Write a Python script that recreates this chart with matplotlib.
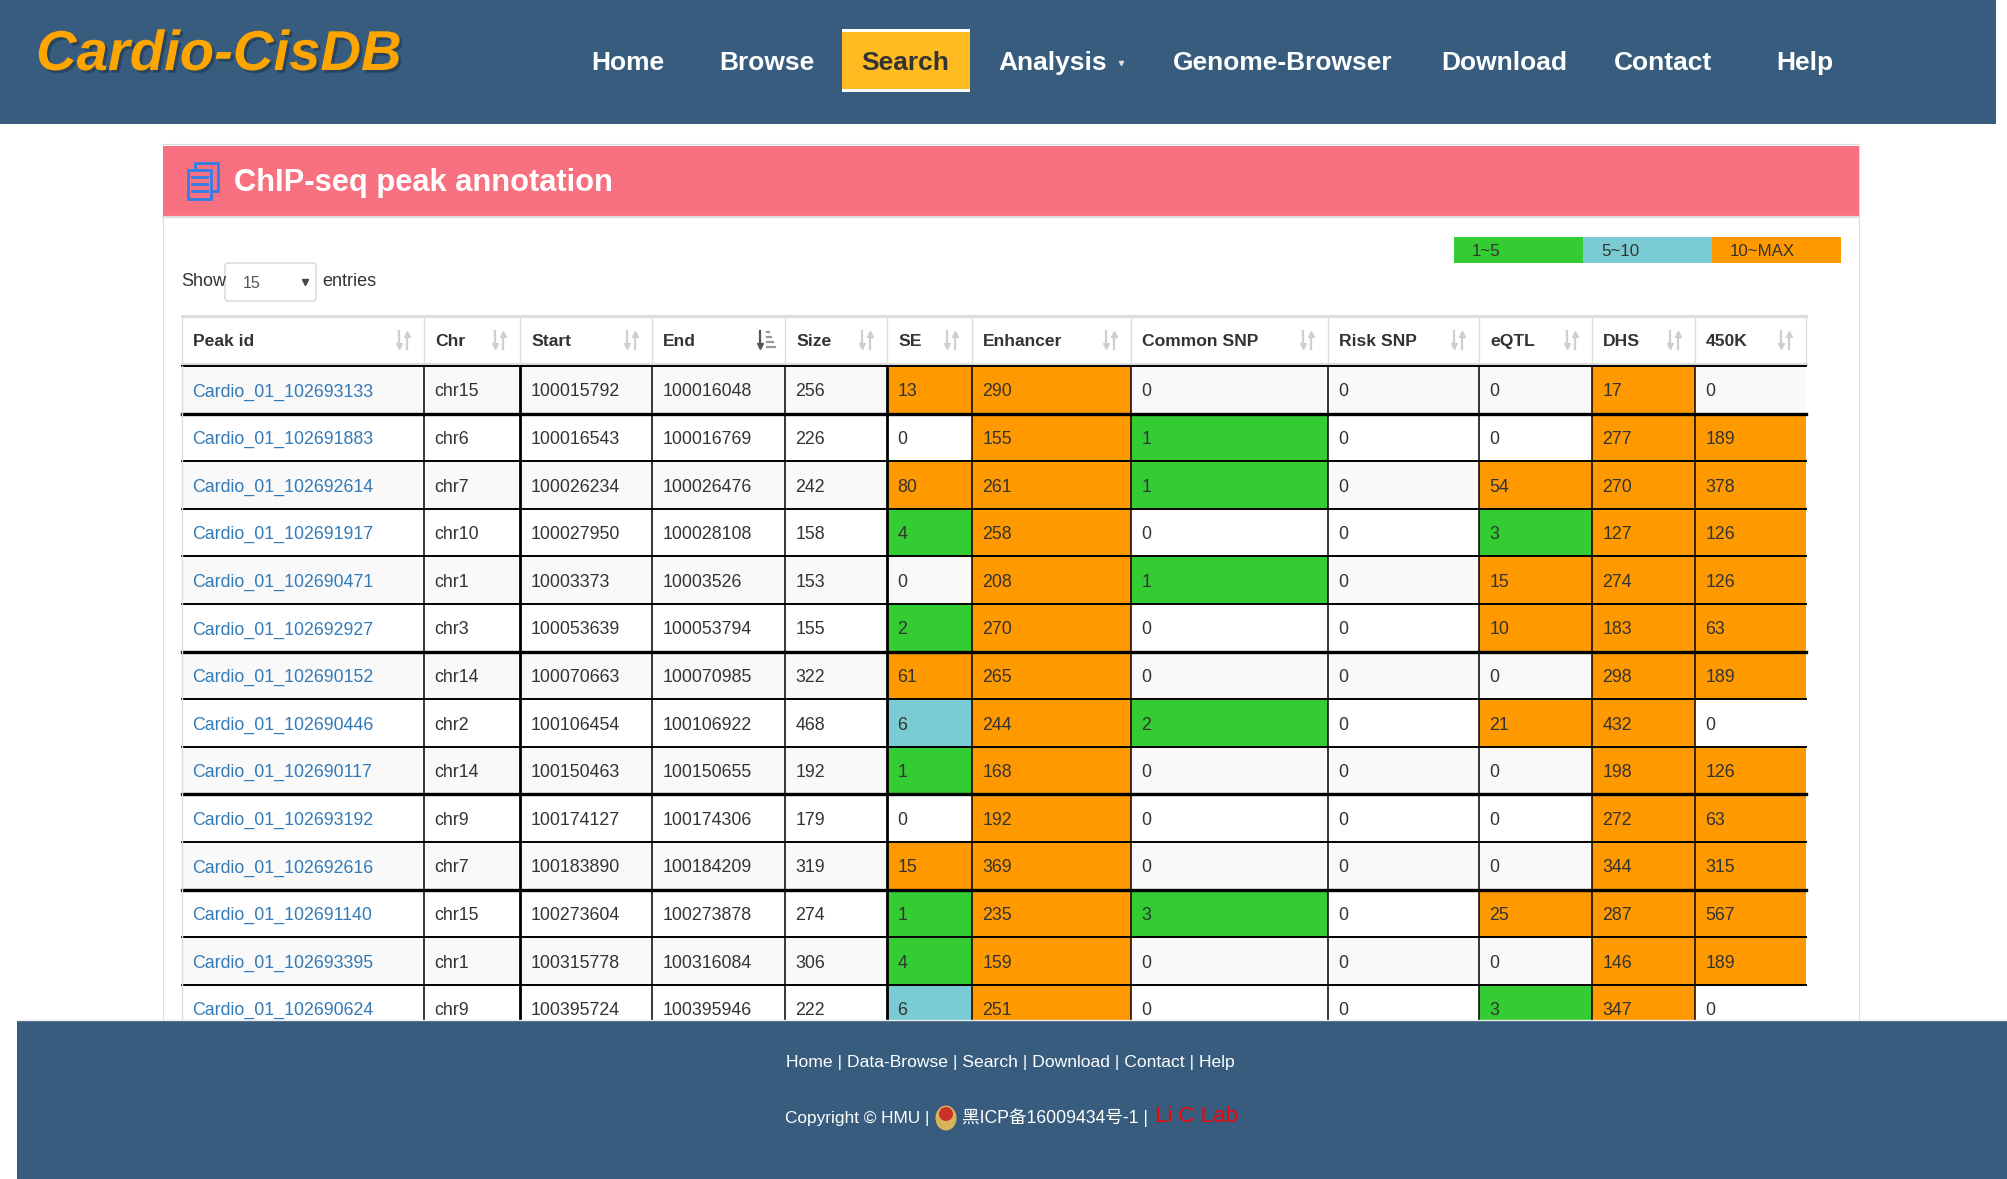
import matplotlib
matplotlib.use('Agg')
import matplotlib.pyplot as plt
import matplotlib.patheffects as pe
from matplotlib.patches import Rectangle, Circle, Ellipse, FancyBboxPatch

plt.rcParams['font.family'] = ['Liberation Sans', 'Noto Sans CJK SC', 'DejaVu Sans']

# table content
columns = ['Peak id', 'Chr', 'Start', 'End', 'Size', 'SE', 'Enhancer',
           'Common SNP', 'Risk SNP', 'eQTL', 'DHS', '450K']
peak_ids = ['Cardio_01_102693133', 'Cardio_01_102691883', 'Cardio_01_102692614',
            'Cardio_01_102691917', 'Cardio_01_102690471', 'Cardio_01_102692927',
            'Cardio_01_102690152', 'Cardio_01_102690446', 'Cardio_01_102690117',
            'Cardio_01_102693192', 'Cardio_01_102692616', 'Cardio_01_102691140',
            'Cardio_01_102693395', 'Cardio_01_102690624']
chrs = ['chr15', 'chr6', 'chr7', 'chr10', 'chr1', 'chr3', 'chr14', 'chr2',
        'chr14', 'chr9', 'chr7', 'chr15', 'chr1', 'chr9']
starts = [100015792, 100016543, 100026234, 100027950, 10003373, 100053639,
          100070663, 100106454, 100150463, 100174127, 100183890, 100273604,
          100315778, 100395724]
ends = [100016048, 100016769, 100026476, 100028108, 10003526, 100053794,
        100070985, 100106922, 100150655, 100174306, 100184209, 100273878,
        100316084, 100395946]
sizes = [256, 226, 242, 158, 153, 155, 322, 468, 192, 179, 319, 274, 306, 222]
se = [13, 0, 80, 4, 0, 2, 61, 6, 1, 0, 15, 1, 4, 6]
enhancer = [290, 155, 261, 258, 208, 270, 265, 244, 168, 192, 369, 235, 159, 251]
common_snp = [0, 1, 1, 0, 1, 0, 0, 2, 0, 0, 0, 3, 0, 0]
risk_snp = [0, 0, 0, 0, 0, 0, 0, 0, 0, 0, 0, 0, 0, 0]
eqtl = [0, 0, 54, 3, 15, 10, 0, 21, 0, 0, 0, 25, 0, 3]
dhs = [17, 277, 270, 127, 274, 183, 298, 432, 198, 272, 344, 287, 146, 347]
k450 = [0, 189, 378, 126, 126, 63, 189, 0, 126, 63, 315, 567, 189, 0]
nav_items = ['Home', 'Browse', 'Search', 'Analysis', 'Genome-Browser',
             'Download', 'Contact', 'Help']
legend_labels = ['1~5', '5~10', '10~MAX']
footer_links = 'Home | Data-Browse | Search | Download | Contact | Help'

# colours
NAVY = '#385c7e'
PINK = '#f77180'
GREEN = '#33cc33'
CYAN = '#7acbd3'
ORANGE = '#ff9900'
GREY = '#dddddd'
TEXT = '#333333'
LINK = '#337ab7'

# page layout, in pixels
col_edges = [182, 424, 520, 652, 785, 887, 972, 1131, 1328, 1479, 1592, 1695, 1806]
nav_x = [591, 719, 861, 998, 1173, 1441, 1614, 1776]
row_top = 366
row_h = 47.6
thick_rows = [1, 6, 9, 11]  # these borders come out heavier in the screenshot


def cell_colour(val, row):
    if val >= 10:
        return ORANGE
    if val > 5:
        return CYAN
    if val >= 1:
        return GREEN
    return '#f9f9f9' if row % 2 == 0 else 'white'


def sort_icon(ax, x, y, active=False):
    col = '#cfcfcf'
    ax.plot([x, x], [y - 9, y + 7], color='#555555' if active else col, lw=1.6, zorder=3)
    ax.plot([x], [y + 6], marker='v', ms=5, color='#555555' if active else col, zorder=3)
    if active:
        for k, w in enumerate([2, 4, 6, 8]):
            ax.plot([x + 7, x + 7 + w], [y - 8 + k * 5] * 2, color='#999999', lw=1.6, zorder=3)
    else:
        ax.plot([x + 8, x + 8], [y - 7, y + 9], color=col, lw=1.6, zorder=3)
        ax.plot([x + 8], [y - 6], marker='^', ms=5, color=col, zorder=3)


fig = plt.figure(figsize=(20.08, 11.79), dpi=100)
ax = fig.add_axes([0, 0, 1, 1])
ax.set_xlim(0, 2008)
ax.set_ylim(1179, 0)
ax.axis('off')

# navbar
ax.add_patch(Rectangle((0, 0), 1996, 124, color=NAVY, lw=0, zorder=1))
ax.text(36, 56, 'Cardio-CisDB', color='#ffa500', fontsize=40.5, fontweight='bold',
        fontstyle='italic', va='center', zorder=3,
        path_effects=[pe.withSimplePatchShadow(offset=(2, -2), shadow_rgbFace='#000000', alpha=0.25)])
ax.add_patch(Rectangle((842, 29), 128, 63, color='white', lw=0, zorder=2))
ax.add_patch(Rectangle((842, 32), 128, 57, color='#ffbb22', lw=0, zorder=2))
for name, x in zip(nav_items, nav_x):
    ax.text(x, 63, name, color=TEXT if name == 'Search' else 'white', fontsize=19,
            fontweight='bold', va='center', zorder=3)
ax.plot([1121], [63], marker='v', ms=3, color='#dddddd', zorder=3)

# panel
ax.add_patch(Rectangle((163, 144), 1696, 890, fc='white', ec=GREY, lw=0.8, zorder=1))
ax.add_patch(Rectangle((163, 146), 1696, 70, color=PINK, lw=0, zorder=2))
ax.plot([163, 1859], [217, 217], color=GREY, lw=1.6, zorder=2)
ax.text(234, 183, 'ChIP-seq peak annotation', color='white', fontsize=22.2,
        fontweight='bold', va='center', zorder=3)
ax.add_patch(Rectangle((195, 163), 23, 28, fc=PINK, ec='#2f7fe8', lw=2, zorder=3))
ax.add_patch(Rectangle((188, 170), 23, 29, fc=PINK, ec='#2f7fe8', lw=2, zorder=3))
for y in [177, 184, 191]:
    ax.plot([192, 207], [y, y], color='#2f7fe8', lw=2, zorder=4)

# colour key
key_edges = [1454, 1583, 1712, 1841]
for k, (lab, c) in enumerate(zip(legend_labels, [GREEN, CYAN, ORANGE])):
    ax.add_patch(Rectangle((key_edges[k], 237), key_edges[k + 1] - key_edges[k], 26,
                           color=c, lw=0, zorder=2))
    ax.text(key_edges[k] + 18, 251, lab, color=TEXT, fontsize=12.2, va='center', zorder=3)

# page length selector
ax.text(181, 282, 'Show', color=TEXT, fontsize=13, va='center', zorder=3)
ax.add_patch(FancyBboxPatch((225, 263), 91, 38, boxstyle='round,pad=0,rounding_size=3',
                            fc='white', ec='#cccccc', lw=0.8, zorder=2))
ax.text(243, 284, '15', color='#555555', fontsize=11.5, va='center', zorder=3)
ax.plot([305], [282], marker='v', ms=4, color='#444444', zorder=3)
ax.text(322, 282, 'entries', color=TEXT, fontsize=13, va='center', zorder=3)

# table header
for x0, x1, name in zip(col_edges[:-1], col_edges[1:], columns):
    ax.text(x0 + 11, 341.5, name, color=TEXT, fontsize=12.6, fontweight='bold', va='center', zorder=3)
    sort_icon(ax, x1 - 25, 340, active=name == 'End')
ax.plot([col_edges[0], col_edges[-1]], [316, 316], color=GREY, lw=2.2, zorder=2)
ax.plot([col_edges[0], col_edges[-1]], [364, 364], color=GREY, lw=2.2, zorder=2)
for x in col_edges:
    ax.plot([x, x], [316, 364], color=GREY, lw=1, zorder=2)

# table body
table_cols = [peak_ids, chrs, starts, ends, sizes, se, enhancer, common_snp,
              risk_snp, eqtl, dhs, k450]
for r in range(len(peak_ids)):
    y0 = row_top + r * row_h
    y_mid = y0 + row_h / 2 + 2.2
    for c, values in enumerate(table_cols):
        val = values[r]
        x0, x1 = col_edges[c], col_edges[c + 1]
        if c >= 5:
            fc = cell_colour(val, r)
        else:
            fc = '#f9f9f9' if r % 2 == 0 else 'white'
        ax.add_patch(Rectangle((x0, y0), x1 - x0, row_h, color=fc, lw=0, zorder=1.5))
        ax.text(x0 + 10.5, y_mid, str(val), color=LINK if c == 0 else TEXT,
                fontsize=12.8, va='center', zorder=3)
    ax.plot([col_edges[0], col_edges[-1]], [y0, y0], color='black',
            lw=2.4 if r in thick_rows else 1.4, zorder=2.5)
for k, x in enumerate(col_edges):
    if k == 0:
        ax.plot([x, x], [row_top, 1021], color=GREY, lw=1, zorder=2.5)
    elif k < len(col_edges) - 1:
        ax.plot([x, x], [row_top, 1021], color='black', lw=2 if k in (2, 5) else 1.1, zorder=2.5)

# footer
ax.add_patch(Rectangle((17, 1021), 1991, 158, color=NAVY, lw=0, zorder=5))
ax.plot([17, 2008], [1020, 1020], color='#eeeeee', lw=1, zorder=5)
ax.text(786, 1062, footer_links, color='white', fontsize=12.6, va='center', zorder=6)
ax.text(785, 1118, 'Copyright © HMU |', color='white', fontsize=12.4, va='center', zorder=6)
ax.add_patch(Ellipse((946, 1118), 21, 25, color='#d9b35c', lw=0, zorder=6))
ax.add_patch(Circle((946, 1114), 7, color='#c8322a', lw=0, zorder=7))
ax.text(962, 1118, '黑ICP备16009434号-1 |', color='white', fontsize=12.7, va='center', zorder=6)
ax.text(1155, 1117, 'Li C Lab', color='#ff0000', fontsize=16, va='center', zorder=6)

fig.savefig('out.png', dpi=100)
